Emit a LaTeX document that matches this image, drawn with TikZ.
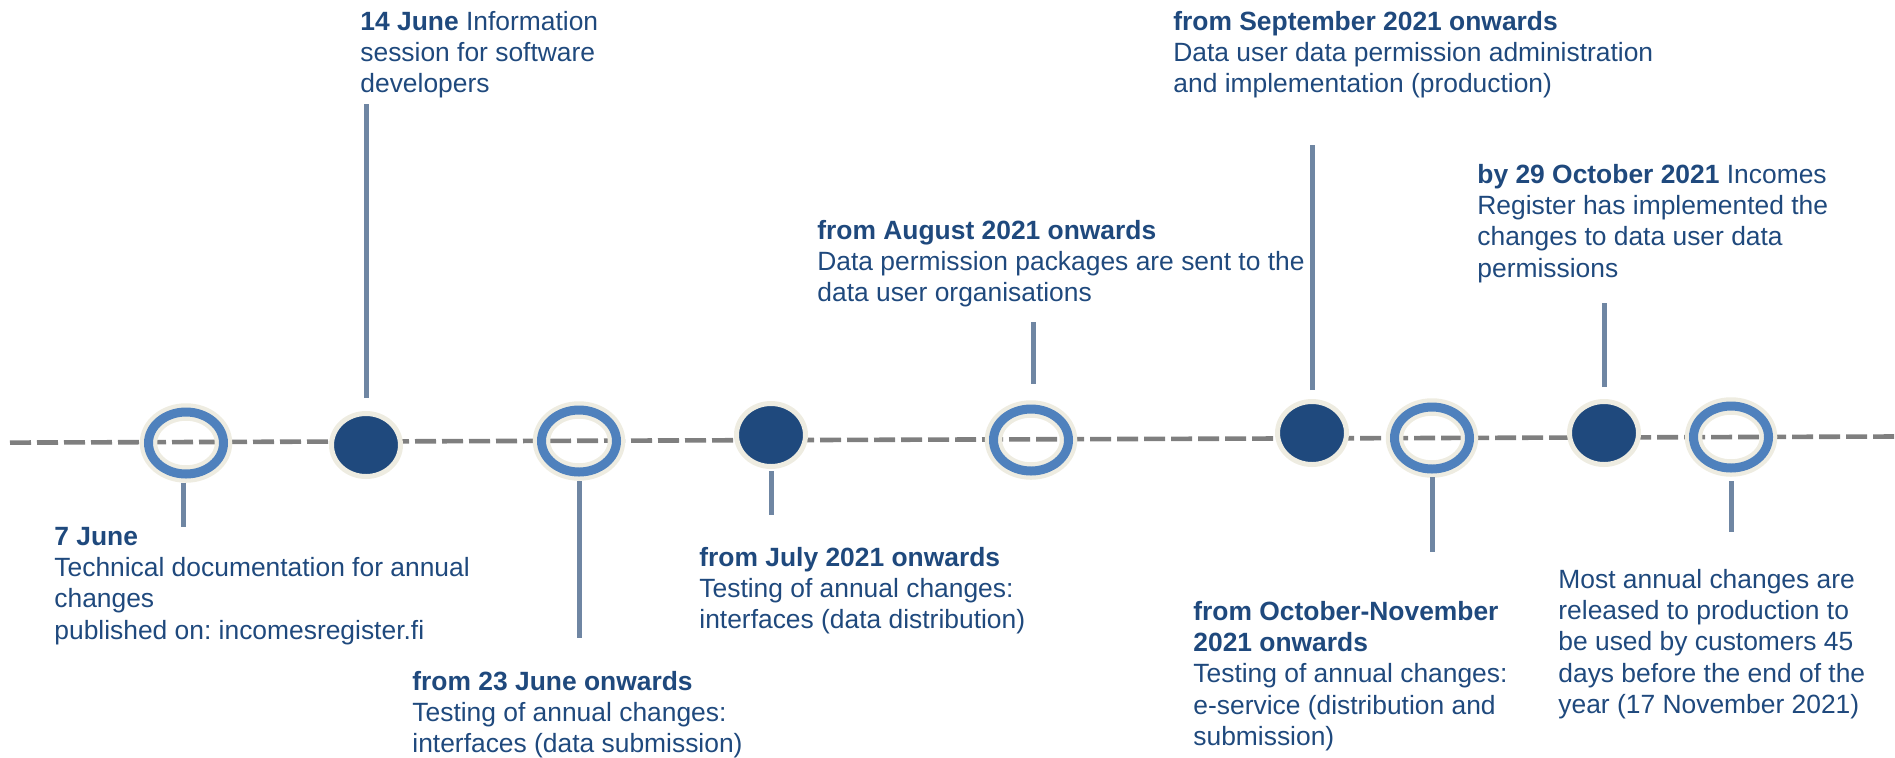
\documentclass[tikz,border=0pt]{standalone}
\usepackage{fontspec}
\setmainfont{Liberation Sans}
\usetikzlibrary{shapes.geometric}

\definecolor{txtblue}{HTML}{1F497D}
\definecolor{navy}{HTML}{1F497D}
\definecolor{ringblue}{HTML}{4F81BD}
\definecolor{cream}{HTML}{EEECE1}
\definecolor{stemgray}{HTML}{6F86A3}
\definecolor{linegray}{HTML}{7F7F7F}

\frenchspacing

\begin{document}
\begin{tikzpicture}[x=0.5pt,y=-0.5pt,
    ring/.style={ellipse, minimum width=37.5pt, minimum height=31pt, inner sep=0pt, outer sep=0pt,
        draw=ringblue, line width=4.5pt, preaction={draw=cream, line width=8.75pt}},
    dot/.style={ellipse, minimum width=34.5pt, minimum height=31.5pt, inner sep=0pt, outer sep=0pt,
        fill=navy, draw=cream, line width=2.5pt},
    stemline/.style={draw=stemgray, line width=2.5pt},
    timeline/.style={draw=linegray, line width=2.3pt, dash pattern=on 10.5pt off 3pt},
    note/.style={anchor=north west, inner sep=0pt, align=left, text=txtblue,
        font=\fontsize{13.2pt}{15.6pt}\selectfont}]

    \useasboundingbox (0,0) rectangle (1895,757);

    % Dashed time line across the picture
    \coordinate (lineL) at (10,442.6);
    \coordinate (lineR) at (1895,436.5);
    \draw[timeline] (lineL) -- (lineR);

    % Ring markers and filled markers along the line
    \node[ring] (m1) at (186,443) {};
    \node[dot]  (m2) at (366,445) {};
    \node[ring] (m3) at (579,441) {};
    \node[dot]  (m4) at (771,435) {};
    \node[ring] (m5) at (1031,440) {};
    \node[dot]  (m6) at (1312,433) {};
    \node[ring] (m7) at (1432,438) {};
    \node[dot]  (m8) at (1604,433) {};
    \node[ring] (m9) at (1731,437) {};

    % Stems up or down from the markers
    \draw[stemline] (m1.south) ++(-3,9) -- ++(0,44);
    \draw[stemline] (m2.north) ++(0,-15.5) -- ++(0,-294);
    \draw[stemline] (m3.south) ++(0,9) -- ++(0,157);
    \draw[stemline] (m4.south) ++(0,4.5) -- ++(0,44);
    \draw[stemline] (m5.north) ++(2,-25.5) -- ++(0,-62);
    \draw[stemline] (m6.north) ++(0,-11.5) -- ++(0,-245);
    \draw[stemline] (m7.south) ++(0,8) -- ++(0,75);
    \draw[stemline] (m8.north) ++(0,-14.5) -- ++(0,-84);
    \draw[stemline] (m9.south) ++(0,13) -- ++(0,51);

    % Texts of the milestones
    \node[note] (t1) at (54,527) {\textbf{7 June}\\Technical documentation for annual\\changes\\published on: incomesregister.fi};
    \node[note] (t2) at (360,11) {\textbf{14 June} Information\\session for software\\developers};
    \node[note] (t3) at (412,671) {\textbf{from 23 June onwards}\\Testing of annual changes:\\interfaces (data submission)};
    \node[note] (t4) at (699,547) {\textbf{from July 2021 onwards}\\Testing of annual changes:\\interfaces (data distribution)};
    \node[note] (t5) at (817,220) {\textbf{from August 2021 onwards}\\Data permission packages are sent to the\\data user organisations};
    \node[note] (t6) at (1173,11) {\textbf{from September 2021 onwards}\\Data user data permission administration\\and implementation (production)};
    \node[note] (t7) at (1193,601) {\textbf{from October-November}\\\textbf{2021 onwards}\\Testing of annual changes:\\e-service (distribution and\\submission)};
    \node[note] (t8) at (1477,164) {\textbf{by 29 October 2021} Incomes\\Register has implemented the\\changes to data user data\\permissions};
    \node[note] (t9) at (1558,569) {Most annual changes are\\released to production to\\be used by customers 45\\days before the end of the\\year (17 November 2021)};

\end{tikzpicture}
\end{document}
